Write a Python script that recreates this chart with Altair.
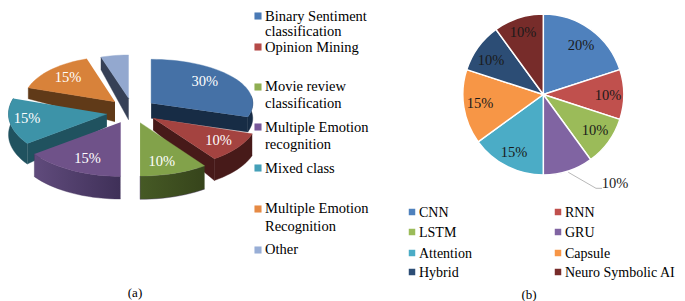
import math
import altair as alt
import pandas as pd

# ---- data ----
topics = ["Binary Sentiment classification", "Opinion Mining", "Movie review classification",
          "Multiple Emotion recognition", "Mixed class", "Multiple Emotion Recognition", "Other"]
topic_share = [30, 10, 10, 15, 15, 15, 5]
topic_labels = ["30%", "10%", "10%", "15%", "15%", "15%", ""]
models = ["CNN", "RNN", "LSTM", "GRU", "Attention", "Capsule", "Hybrid", "Neuro Symbolic AI"]
model_share = [20, 10, 10, 10, 15, 15, 10, 10]
model_labels = ["20%", "10%", "10%", "10%", "15%", "15%", "10%", "10%"]

# ---- colours ----
top_col = ["#4571a6", "#a44340", "#82a24a", "#6f5289", "#3d93a8", "#d8823a", "#93a8cf"]
side_col = ["#172c45", "#471a19", "#3b4a1e", "#43325d", "#20525f", "#603a18", "#364056"]
model_col = ["#4f81bd", "#c0504d", "#9bbb59", "#8064a2", "#4bacc6", "#f79646", "#2c4d75", "#772c2a"]

# ---- layout of the exploded left pie: apex x, y, radius a, b, rim depth, apex depth ----
S = 1 / 3
wedge_layout = [
    (441, 190, 312, 132, 45, 45),
    (447, 235, 320, 150, 65, 35),
    (407, 248, 337, 160, 70, 70),
    (347, 247, 327, 162, 68, 68),
    (305, 222, 302, 150, 62, 38),
    (330, 185, 280, 135, 33, 60),
    (372, 175, 275, 130, 38, 65),
]
W, H = 669, 293
FONT = "Liberation Serif"
X = alt.X("x:Q", axis=None, scale=alt.Scale(domain=[8, 8 + W], range=[0, W], nice=False, zero=False))
Y = alt.Y("y:Q", axis=None, scale=alt.Scale(domain=[8, 8 + H], range=[0, H], nice=False, zero=False))


def squeeze(x):
    # the page margin hides x < 8, so the left pie is narrowed just enough to stay visible
    return 8.5 + (x - 1) * 0.977


def point(w, t, down=0.0):
    ax, ay, a, b, _, _ = w
    r = math.radians(t)
    return (squeeze((ax + a * math.sin(r)) * S), (ay + 40 * 3 - b * math.cos(r) + down) * S)


def apex(w, down=0.0):
    return (squeeze(w[0] * S), (w[1] + 120 + down) * S)


def poly(pts, fill):
    df = pd.DataFrame({"x": [p[0] for p in pts], "y": [p[1] for p in pts], "i": range(len(pts))})
    return alt.Chart(df).mark_line(fill=fill, stroke=fill if isinstance(fill, str) else "#43325d",
                                   strokeWidth=0.4, interpolate="linear").encode(
        x=X, y=Y, order="i:Q")


def arc_pts(w, t0, t1, down=0.0):
    n = max(int(abs(t1 - t0) / 3), 2)
    return [point(w, t0 + (t1 - t0) * k / n, down) for k in range(n + 1)]


angles = []
acc = 0
for v in topic_share:
    angles.append((acc * 3.6, (acc + v) * 3.6))
    acc += v


def top(i):
    w = wedge_layout[i]
    t0, t1 = angles[i]
    return poly([apex(w)] + arc_pts(w, t0, t1), top_col[i])


def rim(i, fill=None, t0=None, t1=None):
    w = wedge_layout[i]
    a0, a1 = angles[i]
    t0 = a0 if t0 is None else t0
    t1 = a1 if t1 is None else t1
    return poly(arc_pts(w, t0, t1) + arc_pts(w, t1, t0, w[4]), fill or side_col[i])


def cut(i, t):
    w = wedge_layout[i]
    return poly([apex(w), point(w, t), point(w, t, w[4]), apex(w, w[5])], side_col[i])


def grad(c0, c1):
    return alt.Gradient(gradient="linear", x1=0, y1=0, x2=1, y2=0,
                        stops=[alt.GradientStop(color=c0, offset=0), alt.GradientStop(color=c1, offset=1)])


layers = [
    cut(6, angles[6][0]), top(6),
    cut(5, angles[5][0]), top(5),
    rim(4), cut(4, angles[4][0]), top(4),
    rim(3, grad("#604b7c", "#3f3058")), top(3),
    rim(0, t0=80), cut(0, angles[0][1]), top(0),
    rim(1), cut(1, angles[1][1]), top(1),
    rim(2, grad("#465a25", "#36441b")), top(2),
]

# ---- right pie ----
right_df = pd.DataFrame({"model": models, "share": model_share, "i": range(len(models)),
                         "color": model_col, "x": [543.3] * 8, "y": [94.5] * 8})
layers.append(
    alt.Chart(right_df).mark_arc(radius=80.5, stroke="white", strokeWidth=1.5).encode(
        x=X, y=Y,
        theta=alt.Theta("share:Q", stack=True, scale=alt.Scale(domain=[0, 100], range=[0, 2 * math.pi])),
        order="i:Q",
        color=alt.Color("color:N", scale=None),
    )
)

# leader line of the GRU label
leader = pd.DataFrame({"x": [568.3, 596, 602], "y": [172.3, 188.3, 188.3], "i": [0, 1, 2]})
layers.append(alt.Chart(leader).mark_line(color="#a6a6a6", strokeWidth=0.8).encode(x=X, y=Y, order="i:Q"))


def text_layer(rows, color="black", size=14.5, baseline="middle", align="center"):
    df = pd.DataFrame(rows, columns=["x", "y", "t"])
    return alt.Chart(df).mark_text(font=FONT, fontSize=size, color=color, align=align, baseline=baseline).encode(
        x=X, y=Y, text="t:N")


left_pos = [(202, 82), (216, 141), (158, 162), (82, 159), (20, 119), (62, 78)]
layers.append(text_layer([(squeeze(p[0]), p[1], l) for p, l in zip(left_pos, topic_labels)], color="white"))

right_pos = [(581, 46), (608, 96), (595, 131), (615, 184), (514, 153), (480, 104), (491, 61), (523, 33)]
layers.append(text_layer([(p[0], p[1], l) for p, l in zip(right_pos, model_labels)], color="#1a1a1a"))

# ---- left legend ----
legend_a_y = [16, 47, 87, 127, 168, 209, 250]
legend_a_lines = [
    [("Binary Sentiment", 21), ("classification", 36)],
    [("Opinion Mining", 52)],
    [("Movie review", 91), ("classification", 108)],
    [("Multiple Emotion", 132), ("recognition", 149)],
    [("Mixed class", 173)],
    [("Multiple Emotion", 213), ("Recognition", 231)],
    [("Other", 254)],
]
legend_a_col = ["#4a7ab5", "#b54a48", "#8fae52", "#77589a", "#45a0b8", "#e68a44", "#98aed6"]
rows = [(265, y, s) for lines in legend_a_lines for s, y in lines]
layers.append(text_layer(rows, baseline="alphabetic", align="left"))
sq_a = pd.DataFrame({"x": [258] * 7, "y": legend_a_y, "c": legend_a_col})
layers.append(alt.Chart(sq_a).mark_point(shape="square", filled=True, size=50, opacity=1, strokeWidth=0).encode(
    x=X, y=Y, color=alt.Color("c:N", scale=None)))

# ---- right legend ----
rows_y = [212, 232, 253, 272]
rows_b = []
sq_b = []
for k, (m, c) in enumerate(zip(models, model_col)):
    col = k % 2
    y = rows_y[k // 2]
    rows_b.append((419 if col == 0 else 565, y + 5, m))
    sq_b.append((412 if col == 0 else 558, y, c))
layers.append(text_layer(rows_b, size=14, baseline="alphabetic", align="left"))
layers.append(alt.Chart(pd.DataFrame(sq_b, columns=["x", "y", "c"])).mark_point(
    shape="square", filled=True, size=42, opacity=1, strokeWidth=0).encode(
    x=X, y=Y, color=alt.Color("c:N", scale=None)))

layers.append(text_layer([(135, 293, "(a)"), (529, 295, "(b)")], size=13))

chart = alt.layer(*layers).resolve_scale(color="independent", theta="independent").properties(
    width=W, height=H, padding=0, background="white", autosize=alt.AutoSizeParams(type="none")
).configure_view(stroke=None)

chart.save("out.html", embed_options={"renderer": "svg", "actions": False})
